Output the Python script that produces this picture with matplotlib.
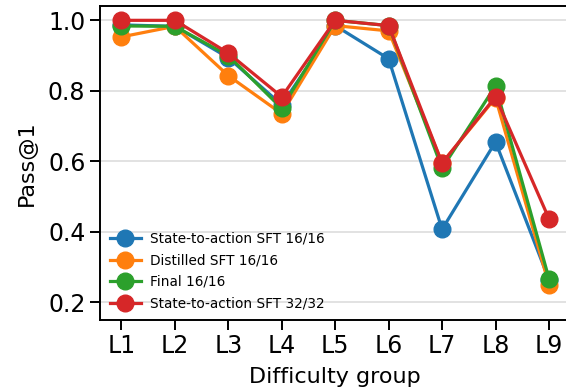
import matplotlib
matplotlib.use("Agg")
import matplotlib.pyplot as plt

groups = ["L1", "L2", "L3", "L4", "L5", "L6", "L7", "L8", "L9"]
s2a_16 = [0.987, 0.983, 0.894, 0.760, 0.985, 0.891, 0.407, 0.655, 0.264]
distilled_16 = [0.953, 0.983, 0.843, 0.735, 0.985, 0.970, 0.595, 0.780, 0.250]
final_16 = [0.984, 0.983, 0.900, 0.750, 1.000, 0.985, 0.580, 0.814, 0.267]
s2a_32 = [1.000, 1.000, 0.907, 0.783, 1.000, 0.985, 0.595, 0.783, 0.437]

series = [
    ("State-to-action SFT 16/16", s2a_16, "#1f77b4"),
    ("Distilled SFT 16/16", distilled_16, "#ff7f0e"),
    ("Final 16/16", final_16, "#2ca02c"),
    ("State-to-action SFT 32/32", s2a_32, "#d62728"),
]

fig = plt.figure(figsize=(5.66, 3.92), dpi=100)
ax = fig.add_axes([0.1767, 0.184, 0.831, 0.801])

for name, vals, col in series:
    ax.plot(groups, vals, "-o", color=col, lw=2.3, ms=12, label=name)

ax.set_ylim(0.15, 1.041)
ax.set_yticks([0.2, 0.4, 0.6, 0.8, 1.0])
ax.grid(axis="y", color="#dddddd", lw=1.2)
ax.set_axisbelow(True)
ax.tick_params(labelsize=17, length=7, width=1.4)
for sp in ax.spines.values():
    sp.set_linewidth(1.4)
ax.set_xlabel("Difficulty group", fontsize=16, labelpad=6)
ax.set_ylabel("Pass@1", fontsize=16, labelpad=8)
ax.legend(loc="lower left", frameon=False, fontsize=9.8, handlelength=2.3,
          borderaxespad=0.3, labelspacing=0.55, handletextpad=0.7)

fig.savefig("out.png", dpi=100)
